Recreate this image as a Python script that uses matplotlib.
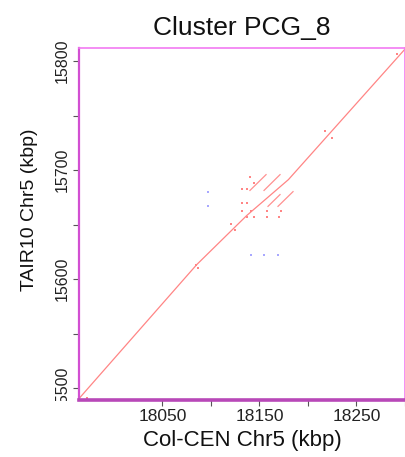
import matplotlib
matplotlib.use("Agg")
import matplotlib.pyplot as plt
from matplotlib.ticker import FixedLocator, NullFormatter
from matplotlib.transforms import Bbox

plt.rcParams['font.family'] = ['Liberation Sans', 'DejaVu Sans']

# Main forward alignment (query kbp, reference kbp)
main_x = [17964.3, 18085.3, 18136.9, 18179.8, 18300.0]
main_y = [15490.6, 15613.2, 15658.3, 15691.2, 15811.0]

# Short forward repeat segments inside the cluster (x0, x1, y0, y1)
seg_x0 = [18156.8, 18171.2, 18184.6, 18171.2]
seg_x1 = [18140.2, 18154.7, 18169.1, 18158.8]
seg_y0 = [15695.8, 15695.8, 15680.2, 15677.5]
seg_y1 = [15681.3, 15681.3, 15666.7, 15666.7]

# Isolated forward hits
fwd_x = [18132.4, 18136.9, 18132.0, 18136.9, 18144.4, 18132.0, 18141.3,
         18158.1, 18171.9, 18136.9, 18144.1, 18158.1, 18170.5, 18140.3,
         18120.4, 18124.8, 18084.3, 18087.0, 18217.6, 18224.5, 18291.5,
         17971.9]
fwd_y = [15669.5, 15669.5, 15682.3, 15682.3, 15687.8, 15662.2, 15662.2,
         15662.2, 15662.2, 15657.3, 15657.3, 15657.3, 15657.3, 15693.3,
         15650.7, 15645.2, 15612.5, 15610.4, 15736.0, 15729.0, 15806.2,
         15490.6]

# Reverse-strand hits
rev_x = [18097.3, 18097.3, 18141.3, 18155.0, 18168.8]
rev_y = [15679.6, 15666.8, 15621.7, 15621.7, 15621.7]

xlim = (17964, 18300)
ylim = (15489, 15812)
x_major = [18050, 18150, 18250]
x_minor = [18100, 18200, 18300]
y_major = [15500, 15600, 15700, 15800]
y_minor = [15550, 15650, 15750]

fig = plt.figure(figsize=(4.06, 4.57), dpi=100)
ax = fig.add_axes([79 / 406, 57 / 457, 326 / 406, 352 / 457])

red = '#ff8585'
blue = '#a8a8ff'
ax.plot(main_x, main_y, color=red, lw=0.9, solid_capstyle='butt')
for a, b, c, d in zip(seg_x0, seg_x1, seg_y0, seg_y1):
    ax.plot([a, b], [c, d], color=red, lw=0.9, alpha=0.9)
ax.scatter(fwd_x, fwd_y, s=2.5, marker='s', color=red, linewidths=0)
ax.scatter(rev_x, rev_y, s=2.5, marker='s', color=blue, linewidths=0)

ax.set_xlim(*xlim)
ax.set_ylim(*ylim)

ax.xaxis.set_major_locator(FixedLocator(x_major))
ax.xaxis.set_minor_locator(FixedLocator(x_minor))
ax.yaxis.set_major_locator(FixedLocator(y_major))
ax.yaxis.set_minor_locator(FixedLocator(y_minor))
ax.xaxis.set_minor_formatter(NullFormatter())
ax.yaxis.set_minor_formatter(NullFormatter())
ax.tick_params(axis='both', which='both', direction='out', length=4,
               width=0.8, color='#555555', labelcolor='#222222')
ax.tick_params(axis='x', which='both', pad=2.5, labelsize=12.5)
ax.tick_params(axis='y', which='both', pad=3, labelsize=11.5)
for lab in ax.get_yticklabels():
    lab.set_rotation(90)
    lab.set_va('center')

ax.spines['top'].set_color('#f27af2')
ax.spines['right'].set_color('#f27af2')
ax.spines['left'].set_color('#d24fd2')
ax.spines['bottom'].set_color('#b848b8')
ax.spines['top'].set_linewidth(1.2)
ax.spines['right'].set_linewidth(1.2)
ax.spines['left'].set_linewidth(1.6)
ax.spines['bottom'].set_linewidth(2.6)

ax.set_title('Cluster PCG_8', fontsize=19, pad=9, color='#111111')
ax.set_xlabel('Col-CEN Chr5 (kbp)', fontsize=16, labelpad=4, color='#111111')
ax.set_ylabel('TAIR10 Chr5 (kbp)', fontsize=14, color='#111111')
ax.yaxis.set_label_coords(-0.125, 0.54)

fig.canvas.draw()
# The lowest y label loses its leading digit where it runs past the axis line
renderer = fig.canvas.get_renderer()
low = ax.get_yticklabels()[0]
ext = low.get_window_extent(renderer)
cut = ext.y0 + ext.height / len(low.get_text())
clip = Bbox([[0, cut], [ax.get_window_extent().x0, fig.bbox.y1]])
for lab in ax.get_yticklabels():
    lab.set_clip_box(clip)
    lab.set_clip_on(True)

fig.savefig('out.png', dpi=100)
